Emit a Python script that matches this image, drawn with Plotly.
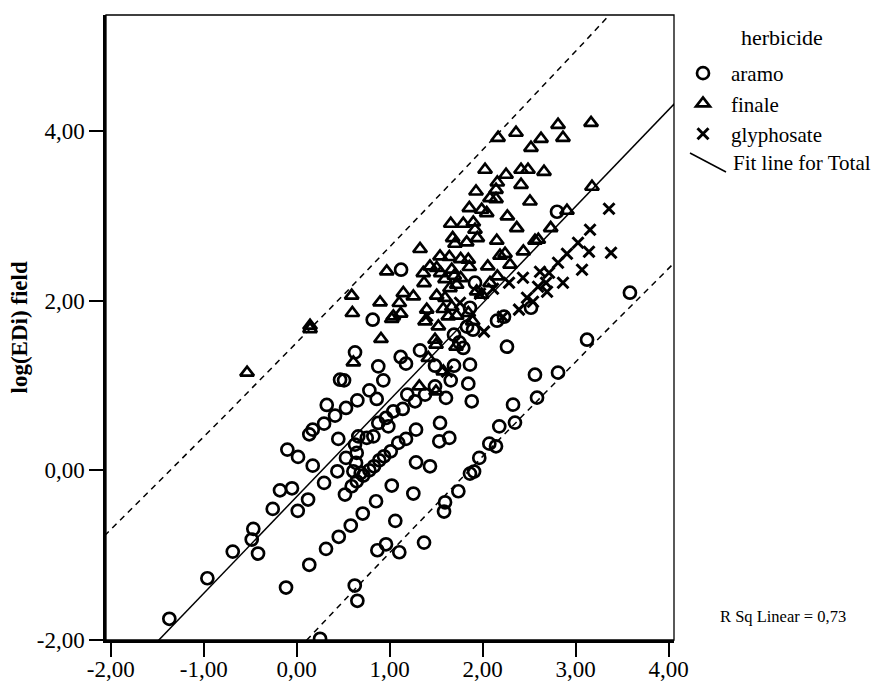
import numpy as np
import plotly.graph_objects as go

# ---------------- data ----------------
aramo_x = [-1.370, -0.961, -0.688, -0.467, -0.484, -0.416, -0.258, -0.180, -0.051, -0.101, 0.014, 0.011,
           0.122, -0.115, 0.135, 0.172, 0.135, 0.172, 0.294, 0.323, 0.294, 0.315, 0.452, 0.581, 0.710,
           0.624, 0.652, 0.251, 0.867, 0.960, 1.060, 1.103, 0.817,
           0.627, 0.877, 0.931, 0.466, 0.509, 0.781, 0.860, 0.652, 0.530, 0.412, 0.447, 1.118, 1.175,
           1.326, 1.487, 1.691, 1.748, 1.791, 1.863, 1.656, 1.845, 1.882, 1.605, 1.487, 1.380, 1.189,
           1.272, 1.140, 1.039, 0.960, 0.877, 0.985, 0.662, 0.753, 0.824, 1.283, 1.175, 1.092, 1.011,
           0.939, 0.888, 0.831, 0.781, 0.716, 0.645, 0.591, 0.627, 0.645, 0.530, 0.638, 0.609, 0.437,
           0.519, 0.688, 1.541, 1.533, 1.641, 1.283, 1.433, 1.022, 0.853, 1.254, 1.595, 1.738, 1.863,
           1.963, 2.071, 2.143, 2.178,
           1.691, 1.831, 1.896, 1.863, 1.917, 1.122, 2.799, 3.583, 3.122, 2.261, 2.229, 2.154, 2.519,
           2.326, 2.347, 2.584, 2.562, 2.810, 1.369, 1.584, 1.907]
aramo_y = [-1.750, -1.272, -0.958, -0.690, -0.816, -0.981, -0.455, -0.236, -0.212, 0.244, 0.158, -0.478,
           -0.345, -1.382, -1.114, 0.055, 0.424, 0.479, 0.550, 0.770, -0.148, -0.926, -0.784, -0.651, -0.510,
           -1.358, -1.538, -1.986, -0.942, -0.872, -0.596, -0.966, 1.775,
           1.390, 1.225, 1.060, 1.068, 1.060, 0.942, 0.841, 0.824, 0.735, 0.644, 0.370, 1.336, 1.257,
           1.413, 1.233, 1.233, 1.508, 1.442, 1.245, 1.060, 1.021, 0.813, 0.853, 0.989, 0.892, 0.892,
           0.813, 0.723, 0.695, 0.617, 0.558, 0.518, 0.400, 0.382, 0.400, 0.479, 0.370, 0.323, 0.224,
           0.165, 0.118, 0.047, 0.000, -0.062, -0.130, -0.188, 0.303, 0.205, 0.146, 0.087, -0.012, -0.012,
           -0.286, -0.031, 0.558, 0.342, 0.382, 0.094, 0.047, -0.180, -0.365, -0.274, -0.377, -0.247, -0.039,
           0.146, 0.314, 0.283, 0.518,
           1.598, 1.693, 1.657, 1.916, 2.211, 2.364, 3.047, 2.093, 1.539, 1.457, 1.810, 1.763, 1.916,
           0.774, 0.562, 0.856, 1.127, 1.151, -0.852, -0.486, -0.015]

finale_x = [2.165, 2.358, 2.025, 2.412, 2.487, 2.659, 2.519, 2.627, 2.863, 2.810, 3.165,
            2.251, 2.157, 2.412, 1.928, 2.143, 2.078, 2.143, 2.508, 1.856, 1.989, 2.043, 2.265, 2.366,
            1.656, 1.791, 1.899, 1.917, 1.677, 1.702, 1.828, 1.942, 2.151, 1.326, 1.541, 1.641, 1.763,
            1.845, 1.856, 2.186, 2.240, 2.294, 2.054, 2.437, 2.598, 2.731, 1.433, 1.505, 1.548, 1.667,
            1.695, 1.361, 1.369, 1.595, 1.720, 1.763, 1.648, 1.146, 1.254, 1.103, 1.118, 1.039, 1.505,
            1.595, 1.398, 1.380, 1.576, 1.667, 1.630, 1.720, 1.523, 1.845, 1.935, 1.989, 2.078, 2.157,
            1.892, 1.487, 2.906, 2.562,
            3.175,
            0.591, 0.598, 0.896, 1.022, 0.906, 0.609, 0.143, 0.143, 0.968, -0.534, 1.498, 1.576, 1.318,
            1.498, 1.713, 1.415]
finale_y = [3.919, 3.978, 3.542, 3.542, 3.542, 3.518, 3.801, 3.907, 3.919, 4.072, 4.095,
            3.483, 3.392, 3.365, 3.286, 3.306, 3.208, 3.197, 3.168, 3.091, 3.071, 3.032, 2.992, 2.855,
            2.906, 2.906, 2.921, 2.835, 2.737, 2.670, 2.686, 2.737, 2.706, 2.608, 2.521, 2.514, 2.490,
            2.482, 2.396, 2.529, 2.552, 2.423, 2.403, 2.580, 2.717, 2.855, 2.403, 2.384, 2.325, 2.364,
            2.293, 2.325, 2.207, 2.254, 2.187, 2.266, 2.148, 2.089, 2.049, 1.972, 1.846, 1.814, 2.058,
            2.031, 1.893, 1.755, 1.901, 1.925, 1.814, 1.822, 1.696, 1.854, 2.108, 2.070, 2.207, 2.285,
            1.755, 1.539, 3.059, 2.706,
            3.342,
            2.058, 1.854, 1.979, 1.783, 1.548, 1.272, 1.665, 1.704, 2.344, 1.151, 1.480, 1.166, 0.989,
            0.930, 1.457, 1.324]

glyphosate_x = [3.358, 3.154, 3.025, 3.143, 3.380, 2.906, 2.810, 3.068, 2.713, 2.616, 2.681, 2.863, 2.595,
                2.433, 2.283, 2.111, 2.692, 2.476, 2.541, 2.390, 2.218, 2.014, 1.971, 1.756, 1.616, 1.402]
glyphosate_y = [3.082, 2.835, 2.682, 2.576, 2.564, 2.552, 2.446, 2.364, 2.329, 2.340, 2.211, 2.211, 2.164,
                2.270, 2.211, 2.140, 2.105, 2.034, 1.987, 1.893, 1.810, 1.634, 2.081, 1.975, 1.163, 1.822]

# fit line (total) and its prediction band
fit_intercept = -0.31
fit_slope = 1.14
band_halfwidth = 1.80
band_center = 1.2
band_spread = 10.0
r_sq_text = "R Sq Linear = 0,73"

x_tickvals = [-2, -1, 0, 1, 2, 3, 4]
x_ticktext = ["-2,00", "-1,00", "0,00", "1,00", "2,00", "3,00", "4,00"]
y_tickvals = [-2, 0, 2, 4]
y_ticktext = ["-2,00", "0,00", "2,00", "4,00"]
x_range = [-2.051, 4.057]
y_range = [-2.0, 5.366]

# ---------------- figure ----------------
FONT = "Liberation Serif, Times New Roman, serif"
W, H = 890, 683
ML, MR, MT, MB = 106, 216, 15, 43
PW, PH = W - ML - MR, H - MT - MB


def px_to_paper(px, py):
    return (px - ML) / PW, (H - MB - py) / PH


fig = go.Figure()

xs = np.linspace(x_range[0] - 0.1, x_range[1] + 0.1, 300)
fit = fit_intercept + fit_slope * xs
hw = band_halfwidth * np.sqrt(1 + ((xs - band_center) / band_spread) ** 2)

fig.add_trace(go.Scatter(x=xs, y=fit + hw, mode="lines", showlegend=False, hoverinfo="skip",
                         line=dict(color="black", width=1.5, dash="6px,5px")))
fig.add_trace(go.Scatter(x=xs, y=fit - hw, mode="lines", showlegend=False, hoverinfo="skip",
                         line=dict(color="black", width=1.5, dash="6px,5px")))
fig.add_trace(go.Scatter(x=xs, y=fit, mode="lines", showlegend=False, hoverinfo="skip",
                         line=dict(color="black", width=1.5)))

fig.add_trace(go.Scatter(x=aramo_x, y=aramo_y, mode="markers", name="aramo",
                         marker=dict(symbol="circle-open", size=12, color="black",
                                     line=dict(width=2.7, color="black"))))
fig.add_trace(go.Scatter(x=finale_x, y=finale_y, mode="markers", name="finale",
                         marker=dict(symbol="triangle-up-open", size=12, color="black",
                                     line=dict(width=2.7, color="black"))))
fig.add_trace(go.Scatter(x=glyphosate_x, y=glyphosate_y, mode="markers", name="glyphosate",
                         marker=dict(symbol="x-thin-open", size=11, color="black",
                                     line=dict(width=3, color="black"))))

axis_common = dict(showgrid=False, zeroline=False, showline=True, linecolor="black", linewidth=2.5,
                   ticks="outside", ticklen=14, tickwidth=2, tickcolor="black", automargin=False,
                   tickfont=dict(family=FONT, size=23, color="black"))

fig.update_layout(
    width=W, height=H,
    margin=dict(l=ML, r=MR, t=MT, b=MB, autoexpand=False),
    paper_bgcolor="white", plot_bgcolor="white",
    font=dict(family=FONT, color="black"),
    xaxis=dict(range=x_range, tickvals=x_tickvals, ticktext=x_ticktext, ticklabelstandoff=-7,
               **axis_common),
    yaxis=dict(range=y_range, tickvals=y_tickvals, ticktext=y_ticktext, **axis_common),
    legend=dict(x=(675 - ML) / PW, y=px_to_paper(0, 53)[1], xanchor="left", yanchor="top",
                font=dict(family=FONT, size=21, color="black"), itemwidth=46,
                bgcolor="rgba(0,0,0,0)", borderwidth=0, tracegroupgap=0),
)

# border on top / right
fig.add_shape(type="rect", xref="paper", yref="paper", x0=0, y0=0, x1=1, y1=1,
              line=dict(color="black", width=1.3), layer="below")

# legend title and the fit-line legend entry
tx, ty = px_to_paper(782, 37)
fig.add_annotation(x=tx, y=ty, xref="paper", yref="paper", text="herbicide", showarrow=False,
                   xanchor="center", yanchor="middle", font=dict(family=FONT, size=22, color="black"))
lx0, ly0 = px_to_paper(690, 153)
lx1, ly1 = px_to_paper(726, 172)
fig.add_shape(type="line", xref="paper", yref="paper", x0=lx0, y0=ly0, x1=lx1, y1=ly1,
              line=dict(color="black", width=1.5))
fx, fy = px_to_paper(731, 163)
fig.add_annotation(x=fx, y=fy, xref="paper", yref="paper", text="Fit line for Total", showarrow=False,
                   xanchor="left", yanchor="middle", font=dict(family=FONT, size=21, color="black"))

# R squared note
rx, ry = px_to_paper(718, 616)
fig.add_annotation(x=rx, y=ry, xref="paper", yref="paper", text=r_sq_text, showarrow=False,
                   xanchor="left", yanchor="middle", font=dict(family=FONT, size=16.5, color="black"))

# y-axis title
yx, yy = px_to_paper(19, 327.5)
fig.add_annotation(x=yx, y=yy, xref="paper", yref="paper", text="<b>log(EDi) field</b>", showarrow=False,
                   textangle=-90, xanchor="center", yanchor="middle",
                   font=dict(family=FONT, size=23, color="black"))

fig.write_html("out.html")
